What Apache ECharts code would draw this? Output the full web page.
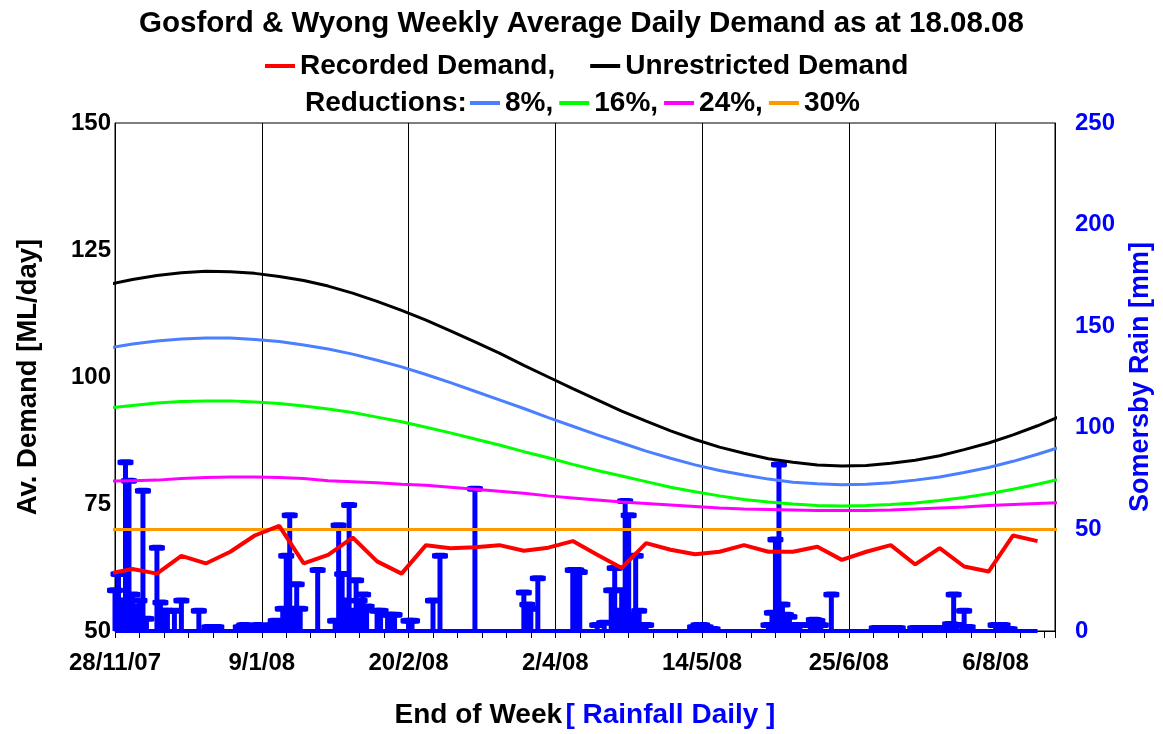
<!DOCTYPE html>
<html lang="en">
<head>
    <meta charset="UTF-8">
    <title>Gosford & Wyong Weekly Demand</title>
    <script src="https://cdn.jsdelivr.net/npm/echarts@6/dist/echarts.min.js"></script>
    <style>
        html, body { margin: 0; padding: 0; background: #fff; }
        #chart { width: 1163px; height: 734px; }
    </style>
</head>
<body>
<div id="chart"></div>
<script type="text/javascript">
    // end-of-week dates (weekly demand points)
    var weekDates = ['26/11/07', '3/12/07', '10/12/07', '17/12/07', '24/12/07', '31/12/07', '7/1/08', '14/1/08',
        '21/1/08', '28/1/08', '4/2/08', '11/2/08', '18/2/08', '25/2/08', '3/3/08', '10/3/08', '17/3/08', '24/3/08',
        '31/3/08', '7/4/08', '14/4/08', '21/4/08', '28/4/08', '5/5/08', '12/5/08', '19/5/08', '26/5/08', '2/6/08',
        '9/6/08', '16/6/08', '23/6/08', '30/6/08', '7/7/08', '14/7/08', '21/7/08', '28/7/08', '4/8/08', '11/8/08',
        '18/8/08', '25/8/08'];

    var recorded = [61.3, 62.2, 61.3, 64.8, 63.3, 65.6, 68.8, 70.7, 63.3, 65.0, 68.4, 63.7, 61.3, 66.9, 66.3, 66.5,
        66.9, 65.8, 66.4, 67.7, 65.0, 62.4, 67.3, 66.0, 65.1, 65.6, 66.9, 65.6, 65.6, 66.6, 64.0, 65.6, 66.9, 63.1,
        66.3, 62.7, 61.7, 68.8, 67.7];

    var unrestricted = [118.2, 119.2, 120.0, 120.5, 120.8, 120.7, 120.4, 119.8, 119.0, 117.9, 116.5, 114.9, 113.1,
        111.2, 109.1, 106.9, 104.7, 102.3, 100.0, 97.7, 95.5, 93.3, 91.3, 89.4, 87.7, 86.2, 85.0, 83.9, 83.2, 82.7,
        82.5, 82.6, 83.0, 83.6, 84.5, 85.7, 87.0, 88.6, 90.4, 92.4];

    var red8 = [105.7, 106.5, 107.1, 107.5, 107.7, 107.7, 107.4, 107.0, 106.3, 105.5, 104.5, 103.3, 102.0, 100.5,
        98.9, 97.2, 95.5, 93.8, 92.0, 90.3, 88.6, 87.0, 85.4, 84.0, 82.7, 81.6, 80.7, 79.9, 79.3, 79.0, 78.8, 78.9,
        79.2, 79.7, 80.3, 81.2, 82.2, 83.4, 84.8, 86.3];

    var red16 = [93.9, 94.4, 94.9, 95.2, 95.3, 95.3, 95.1, 94.8, 94.3, 93.7, 93.0, 92.1, 91.2, 90.1, 89.0, 87.8,
        86.6, 85.3, 84.1, 82.8, 81.6, 80.5, 79.4, 78.3, 77.4, 76.6, 75.9, 75.4, 75.0, 74.7, 74.6, 74.7, 74.9, 75.2,
        75.7, 76.3, 77.0, 77.9, 78.9, 80.0];

    var red24 = [79.5, 79.6, 79.7, 80.0, 80.2, 80.3, 80.3, 80.2, 80.0, 79.6, 79.4, 79.2, 78.9, 78.7, 78.3, 77.9,
        77.5, 77.1, 76.6, 76.2, 75.8, 75.4, 75.1, 74.8, 74.5, 74.2, 74.0, 73.9, 73.8, 73.7, 73.7, 73.7, 73.8, 74.0,
        74.2, 74.4, 74.7, 74.9, 75.1, 75.3];

    var red30 = [70, 70, 70, 70, 70, 70, 70, 70, 70, 70, 70, 70, 70, 70, 70, 70, 70, 70, 70, 70,
        70, 70, 70, 70, 70, 70, 70, 70, 70, 70, 70, 70, 70, 70, 70, 70, 70, 70, 70, 70];

    // Somersby daily rainfall (rain days only)
    var rainDates = ['28/11/07', '29/11/07', '30/11/07', '1/12/07', '2/12/07', '3/12/07', '4/12/07', '5/12/07',
        '6/12/07', '7/12/07', '10/12/07', '11/12/07', '12/12/07', '13/12/07', '15/12/07', '17/12/07', '22/12/07',
        '25/12/07', '26/12/07', '27/12/07', '3/1/08', '4/1/08', '5/1/08', '7/1/08', '8/1/08', '9/1/08', '10/1/08',
        '12/1/08', '13/1/08', '14/1/08', '15/1/08', '16/1/08', '17/1/08', '18/1/08', '19/1/08', '20/1/08',
        '25/1/08', '30/1/08', '31/1/08', '1/2/08', '2/2/08', '3/2/08', '4/2/08', '5/2/08', '6/2/08', '7/2/08',
        '8/2/08', '11/2/08', '12/2/08', '14/2/08', '15/2/08', '16/2/08', '20/2/08', '21/2/08', '27/2/08',
        '29/2/08', '10/3/08', '24/3/08', '25/3/08', '26/3/08', '28/3/08', '7/4/08', '8/4/08', '9/4/08',
        '14/4/08', '16/4/08', '18/4/08', '19/4/08', '20/4/08', '21/4/08', '22/4/08', '23/4/08', '24/4/08',
        '25/4/08', '26/4/08', '27/4/08', '28/4/08', '12/5/08', '13/5/08', '14/5/08', '15/5/08', '17/5/08',
        '2/6/08', '3/6/08', '4/6/08', '5/6/08', '6/6/08', '7/6/08', '8/6/08', '9/6/08', '10/6/08', '11/6/08',
        '14/6/08', '15/6/08', '16/6/08', '17/6/08', '20/6/08', '3/7/08', '5/7/08', '7/7/08', '9/7/08',
        '14/7/08', '16/7/08', '18/7/08', '20/7/08', '22/7/08', '24/7/08', '25/7/08', '26/7/08', '28/7/08',
        '29/7/08', '6/8/08', '7/8/08', '8/8/08', '10/8/08'];
    var rainMm = [20, 28, 15, 83, 74, 18, 12, 15,
        69, 6, 41, 14, 10, 10, 10, 15, 10,
        2, 2, 2, 2, 3, 2, 2, 3, 2, 1,
        3, 5, 4, 11, 37, 57, 11, 23, 11,
        30, 5, 52, 28, 15, 62, 10, 25, 15, 18,
        12, 10, 10, 8, 8, 8, 5, 5, 15,
        37, 70, 19, 13, 11, 26, 30, 30, 29,
        3, 4, 20, 31, 10, 20, 64, 57, 8,
        37, 10, 3, 3, 2, 3, 3, 2, 1,
        3, 9, 45, 82, 13, 8, 7, 3, 3, 3,
        3, 5.5, 5, 3, 18, 1.5, 1.5, 1.5, 1.5,
        1.5, 1.5, 1.5, 1.5, 1.5, 3.4, 18, 3, 10,
        2, 3, 3, 3, 1];

    var leftTicks = {min: 50, max: 150, step: 25};
    var rightTicks = {min: 0, max: 250, step: 50};
    var axisStart = '28/11/07', axisEnd = '23/8/08', labelStep = 42, weekStep = 7;

    var FONT = 'Liberation Sans, Arial, sans-serif';
    var START = Date.UTC(2007, 10, 28);

    // days since 28/11/07
    function dayOf(s) {
        var p = s.split('/').map(Number);
        return Math.round((Date.UTC(2000 + p[2], p[1] - 1, p[0]) - START) / 864e5);
    }
    function dateLabel(v) {
        var d = new Date(START + v * 864e5);
        return d.getUTCDate() + '/' + (d.getUTCMonth() + 1) + '/' + String(d.getUTCFullYear()).slice(2);
    }
    function pairs(dates, vals) {
        return vals.map(function (v, i) { return [dayOf(dates[i]), v]; });
    }

    var chart = echarts.init(document.getElementById('chart'));

    var lineBase = {type: 'line', showSymbol: false, symbol: 'none', clip: true, animation: false};

    var option = {
        animation: false,
        backgroundColor: '#fff',
        title: [{
            text: 'Gosford & Wyong Weekly Average Daily Demand as at 18.08.08',
            left: 'center', top: 9, padding: 0,
            textStyle: {fontFamily: FONT, fontSize: 29.5, fontWeight: 'bold', color: '#000'}
        }, {
            text: 'Reductions:',
            left: 305, top: 89, padding: 0,
            textStyle: {fontFamily: FONT, fontSize: 28, fontWeight: 'bold', color: '#000'}
        }],
        legend: [{
            data: ['Recorded Demand', 'Unrestricted Demand'],
            left: 265, top: 52, padding: 0,
            icon: 'rect', itemWidth: 30, itemHeight: 4, itemGap: 35,
            formatter: function (n) { return n === 'Recorded Demand' ? n + ',' : n; },
            textStyle: {fontFamily: FONT, fontSize: 28, fontWeight: 'bold', color: '#000'}
        }, {
            data: ['8%', '16%', '24%', '30%'],
            left: 470, top: 89, padding: 0,
            icon: 'rect', itemWidth: 30, itemHeight: 4, itemGap: 6,
            formatter: function (n) { return n === '30%' ? n : n + ','; },
            textStyle: {fontFamily: FONT, fontSize: 28, fontWeight: 'bold', color: '#000'}
        }],
        grid: {
            left: 115, right: 108, top: 123, bottom: 101,
            show: true, borderColor: '#000', borderWidth: 1
        },
        xAxis: {
            type: 'value',
            min: dayOf(axisStart), max: dayOf(axisEnd), interval: labelStep,
            name: '{a|End of Week} {b|[ Rainfall Daily ]}',
            nameLocation: 'middle', nameGap: 70,
            nameTextStyle: {
                rich: {
                    a: {fontFamily: FONT, fontSize: 28, fontWeight: 'bold', color: '#000'},
                    b: {fontFamily: FONT, fontSize: 28, fontWeight: 'bold', color: '#0000ff'}
                }
            },
            axisLine: {show: true, lineStyle: {color: '#000', width: 1}},
            axisTick: {show: true, inside: false, length: 7, lineStyle: {color: '#000'}},
            minorTick: {show: true, splitNumber: labelStep / weekStep, length: 7, lineStyle: {color: '#000'}},
            splitLine: {show: true, lineStyle: {color: '#000', width: 1}},
            axisLabel: {
                margin: 20, showMaxLabel: false,
                fontFamily: FONT, fontSize: 24, fontWeight: 'bold', color: '#000',
                formatter: dateLabel
            }
        },
        yAxis: [{
            type: 'value', min: leftTicks.min, max: leftTicks.max, interval: leftTicks.step,
            name: 'Av. Demand [ML/day]', nameLocation: 'middle', nameGap: 73, nameRotate: 90,
            nameTextStyle: {fontFamily: FONT, fontSize: 27.5, fontWeight: 'bold', color: '#000'},
            axisLine: {show: true, lineStyle: {color: '#000'}},
            axisTick: {show: false},
            splitLine: {show: false},
            axisLabel: {margin: 4, fontFamily: FONT, fontSize: 24, fontWeight: 'bold', color: '#000'}
        }, {
            type: 'value', min: rightTicks.min, max: rightTicks.max, interval: rightTicks.step,
            position: 'right',
            name: 'Somersby Rain [mm]', nameLocation: 'middle', nameGap: 72, nameRotate: 90,
            nameTextStyle: {fontFamily: FONT, fontSize: 27, fontWeight: 'bold', color: '#0000ff'},
            axisLine: {show: true, lineStyle: {color: '#000'}},
            axisTick: {show: false},
            splitLine: {show: false},
            axisLabel: {margin: 20, fontFamily: FONT, fontSize: 24, fontWeight: 'bold', color: '#0000ff'}
        }],
        series: [
            Object.assign({}, lineBase, {
                name: 'Unrestricted Demand', color: '#000000',
                lineStyle: {width: 3, color: '#000000'}, data: pairs(weekDates, unrestricted)
            }),
            Object.assign({}, lineBase, {
                name: '8%', color: '#4a7fff',
                lineStyle: {width: 3, color: '#4a7fff'}, data: pairs(weekDates, red8)
            }),
            Object.assign({}, lineBase, {
                name: '16%', color: '#00ff00',
                lineStyle: {width: 3, color: '#00ff00'}, data: pairs(weekDates, red16)
            }),
            Object.assign({}, lineBase, {
                name: '24%', color: '#ff00ff',
                lineStyle: {width: 3, color: '#ff00ff'}, data: pairs(weekDates, red24)
            }),
            Object.assign({}, lineBase, {
                name: '30%', color: '#ff9900',
                lineStyle: {width: 3, color: '#ff9900'}, data: pairs(weekDates, red30)
            }),
            Object.assign({}, lineBase, {
                name: 'Recorded Demand', color: '#ff0000',
                lineStyle: {width: 4, color: '#ff0000'}, data: pairs(weekDates, recorded)
            }),
            {
                name: 'Rainfall', type: 'bar', yAxisIndex: 1, barWidth: 5,
                itemStyle: {color: '#0000ff'},
                data: pairs(rainDates, rainMm),
                markLine: {
                    silent: true, symbol: 'none', label: {show: false},
                    lineStyle: {color: '#0000ff', width: 4, type: 'solid'},
                    data: [[{coord: [dayOf(axisStart), 0]}, {coord: [dayOf(weekDates[38]), 0]}]]
                }
            },
            {
                name: 'Rainfall caps', type: 'scatter', yAxisIndex: 1,
                symbol: 'roundRect', symbolSize: [16, 6],
                itemStyle: {color: '#0000ff', opacity: 1},
                data: pairs(rainDates, rainMm)
            }
        ]
    };

    chart.setOption(option);
</script>
</body>
</html>
